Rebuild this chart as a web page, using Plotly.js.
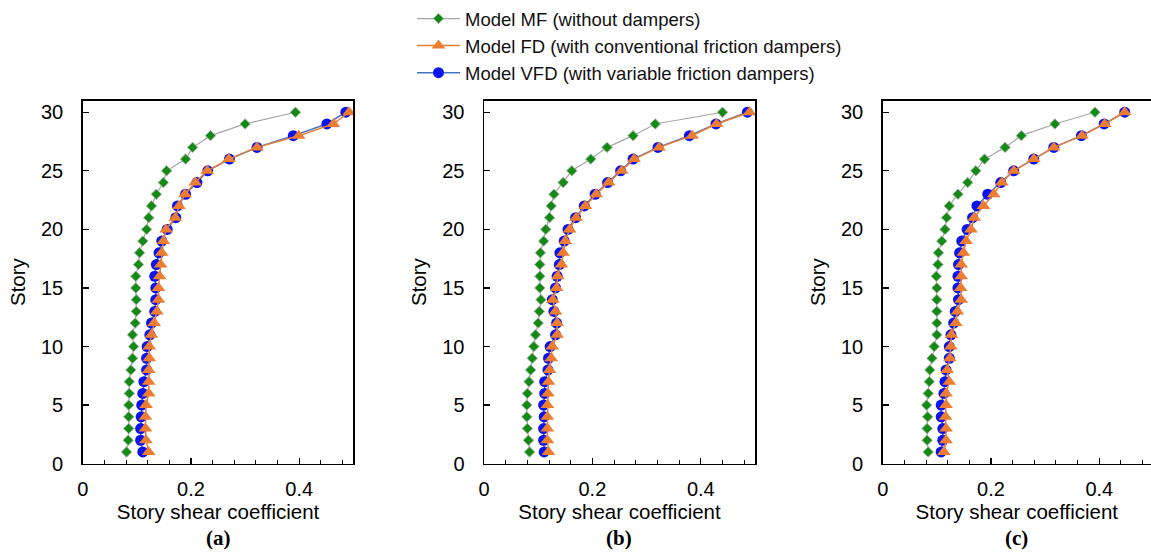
<!DOCTYPE html>
<html>
<head>
<meta charset="utf-8">
<script src="https://cdn.plot.ly/plotly-3.0.1.min.js"></script>
<style>html,body{margin:0;padding:0;background:#fff;}#chart{width:1151px;height:557px;}</style>
</head>
<body>
<div id="chart"></div>
<script>
// Story numbers 1..30
const stories = [1,2,3,4,5,6,7,8,9,10,11,12,13,14,15,16,17,18,19,20,21,22,23,24,25,26,27,28,29,30];

// Panel (a)
const mfA  = [0.081,0.084,0.085,0.085,0.085,0.086,0.086,0.089,0.092,0.094,0.092,0.097,0.099,0.099,0.098,0.098,0.103,0.105,0.111,0.118,0.122,0.127,0.136,0.149,0.155,0.190,0.203,0.236,0.300,0.393];
const fdA  = [0.122,0.117,0.116,0.116,0.117,0.122,0.122,0.122,0.123,0.123,0.127,0.132,0.137,0.140,0.140,0.142,0.144,0.146,0.149,0.154,0.171,0.178,0.189,0.208,0.230,0.270,0.322,0.399,0.463,0.492];
const vfdA = [0.111,0.107,0.107,0.108,0.109,0.111,0.113,0.118,0.118,0.119,0.124,0.127,0.133,0.135,0.135,0.133,0.136,0.141,0.146,0.156,0.172,0.175,0.190,0.211,0.231,0.271,0.322,0.389,0.451,0.486];

// Panel (b)
const mfB  = [0.084,0.082,0.080,0.079,0.079,0.080,0.083,0.086,0.089,0.092,0.095,0.100,0.102,0.105,0.103,0.103,0.103,0.104,0.110,0.114,0.121,0.124,0.129,0.146,0.162,0.197,0.227,0.275,0.316,0.440];
const fdB  = [0.119,0.117,0.117,0.117,0.117,0.118,0.119,0.121,0.124,0.126,0.135,0.135,0.132,0.127,0.134,0.136,0.143,0.146,0.150,0.158,0.170,0.187,0.207,0.230,0.254,0.277,0.323,0.384,0.429,0.490];
const vfdB = [0.111,0.110,0.110,0.111,0.110,0.112,0.112,0.118,0.119,0.122,0.132,0.134,0.129,0.126,0.132,0.135,0.139,0.140,0.148,0.155,0.169,0.185,0.205,0.228,0.252,0.275,0.321,0.379,0.428,0.486];

// Panel (c)
const mfC  = [0.084,0.082,0.082,0.083,0.081,0.084,0.086,0.087,0.091,0.095,0.100,0.100,0.100,0.100,0.100,0.099,0.102,0.103,0.109,0.115,0.118,0.123,0.139,0.157,0.172,0.188,0.226,0.256,0.318,0.392];
const fdC  = [0.113,0.117,0.117,0.116,0.117,0.117,0.123,0.119,0.124,0.126,0.127,0.135,0.138,0.145,0.144,0.145,0.145,0.149,0.154,0.163,0.169,0.186,0.205,0.220,0.242,0.279,0.316,0.368,0.410,0.447];
const vfdC = [0.108,0.111,0.111,0.108,0.108,0.113,0.115,0.117,0.123,0.123,0.126,0.131,0.134,0.140,0.139,0.139,0.140,0.142,0.146,0.156,0.166,0.174,0.194,0.218,0.242,0.279,0.316,0.367,0.409,0.447];

const seriesNames = ["Model MF (without dampers)", "Model FD (with conventional friction dampers)", "Model VFD (with variable friction dampers)"];
const panelLabels = ["(a)", "(b)", "(c)"];
const xTickVals = [0, 0.2, 0.4];
const xTickText = ["0", "0.2", "0.4"];
const yTickVals = [0, 5, 10, 15, 20, 25, 30];

const W = 1151, H = 557;
const panels = [
  {mf: mfA, fd: fdA, vfd: vfdA, x0: 82.7, x1: 353.4, xmax: 0.5},
  {mf: mfB, fd: fdB, vfd: vfdB, x0: 484, x1: 755, xmax: 0.5},
  {mf: mfC, fd: fdC, vfd: vfdC, x0: 882.7, x1: 1151, xmax: 0.4955}
];
const yTopPx = 99.7, yBotPx = 463.5;
const yDom = [1 - yBotPx / H, 1 - yTopPx / H];

const mfStyle = {line: {color: '#A6A6A6', width: 1.2}, marker: {symbol: 'diamond', size: 8, color: '#138A13', line: {color: '#9FB59F', width: 1}}};
const fdStyle = {line: {color: '#ED7D31', width: 1.5}, marker: {symbol: 'triangle-up', size: 12, color: '#ED7D31', line: {width: 0}}};
const vfdStyle = {line: {color: '#4472C4', width: 1.5}, marker: {symbol: 'circle', size: 11, color: '#0A14F0', line: {width: 0}}};

const traces = [];
const layout = {
  width: W, height: H,
  margin: {l: 0, r: 0, t: 0, b: 0},
  paper_bgcolor: '#fff', plot_bgcolor: '#fff',
  font: {family: 'Liberation Sans, Arial, sans-serif', color: '#000', size: 20},
  showlegend: true,
  legend: {x: 412 / W, y: 1 + 1 / H, xanchor: 'left', yanchor: 'top', itemwidth: 43, font: {size: 18.5, color: '#111'}, bgcolor: 'rgba(0,0,0,0)', tracegroupgap: 0},
  annotations: []
};

panels.forEach((p, i) => {
  const n = i + 1;
  const xa = n === 1 ? 'x' : 'x' + n;
  const ya = n === 1 ? 'y' : 'y' + n;
  const show = i === 0;
  traces.push(Object.assign({x: p.mf, y: stories, xaxis: xa, yaxis: ya, type: 'scatter', mode: 'lines+markers', name: seriesNames[0], legendgroup: 'mf', showlegend: show, legendrank: 1, cliponaxis: false}, JSON.parse(JSON.stringify(mfStyle))));
  traces.push(Object.assign({x: p.vfd, y: stories, xaxis: xa, yaxis: ya, type: 'scatter', mode: 'lines+markers', name: seriesNames[2], legendgroup: 'vfd', showlegend: show, legendrank: 3, cliponaxis: false}, JSON.parse(JSON.stringify(vfdStyle))));
  traces.push(Object.assign({x: p.fd, y: stories, xaxis: xa, yaxis: ya, type: 'scatter', mode: 'lines+markers', name: seriesNames[1], legendgroup: 'fd', showlegend: show, legendrank: 2, cliponaxis: false}, JSON.parse(JSON.stringify(fdStyle))));

  const xKey = n === 1 ? 'xaxis' : 'xaxis' + n;
  const yKey = n === 1 ? 'yaxis' : 'yaxis' + n;
  layout[xKey] = {
    domain: [p.x0 / W, p.x1 / W], range: [0, p.xmax], anchor: ya,
    showgrid: false, zeroline: false, showline: true, mirror: true, linecolor: '#000', linewidth: 1.5,
    ticks: 'inside', ticklen: 6, tickwidth: 1.3, tickcolor: '#000',
    tickvals: xTickVals, ticktext: xTickText, ticklabelstandoff: 7,
    minor: {dtick: 0.04, tick0: 0, ticks: 'inside', ticklen: 4, tickwidth: 1, tickcolor: '#000', showgrid: false},
    tickfont: {size: 20},
    title: {text: 'Story shear coefficient', font: {size: 20.5}, standoff: 0}
  };
  layout[yKey] = {
    domain: yDom, range: [0, 31], anchor: xa,
    showgrid: false, zeroline: false, showline: true, mirror: true, linecolor: '#000', linewidth: 1.5,
    ticks: 'inside', ticklen: 6, tickwidth: 1.3, tickcolor: '#000',
    tickvals: yTickVals, ticklabelstandoff: 14,
    tickfont: {size: 20},
    title: {text: 'Story', font: {size: 20.5}, standoff: 10}
  };
  layout.annotations.push({
    text: '<b>' + panelLabels[i] + '</b>', xref: 'paper', yref: 'paper',
    x: ((p.x0 + Math.min(p.x1, p.x0 + 270.7)) / 2) / W, y: 1 - 538 / H, xanchor: 'center', yanchor: 'middle',
    showarrow: false, font: {family: 'Liberation Serif, Times New Roman, serif', size: 21, color: '#000'}
  });
});

Plotly.newPlot('chart', traces, layout, {displayModeBar: false, staticPlot: true});
</script>
</body>
</html>
